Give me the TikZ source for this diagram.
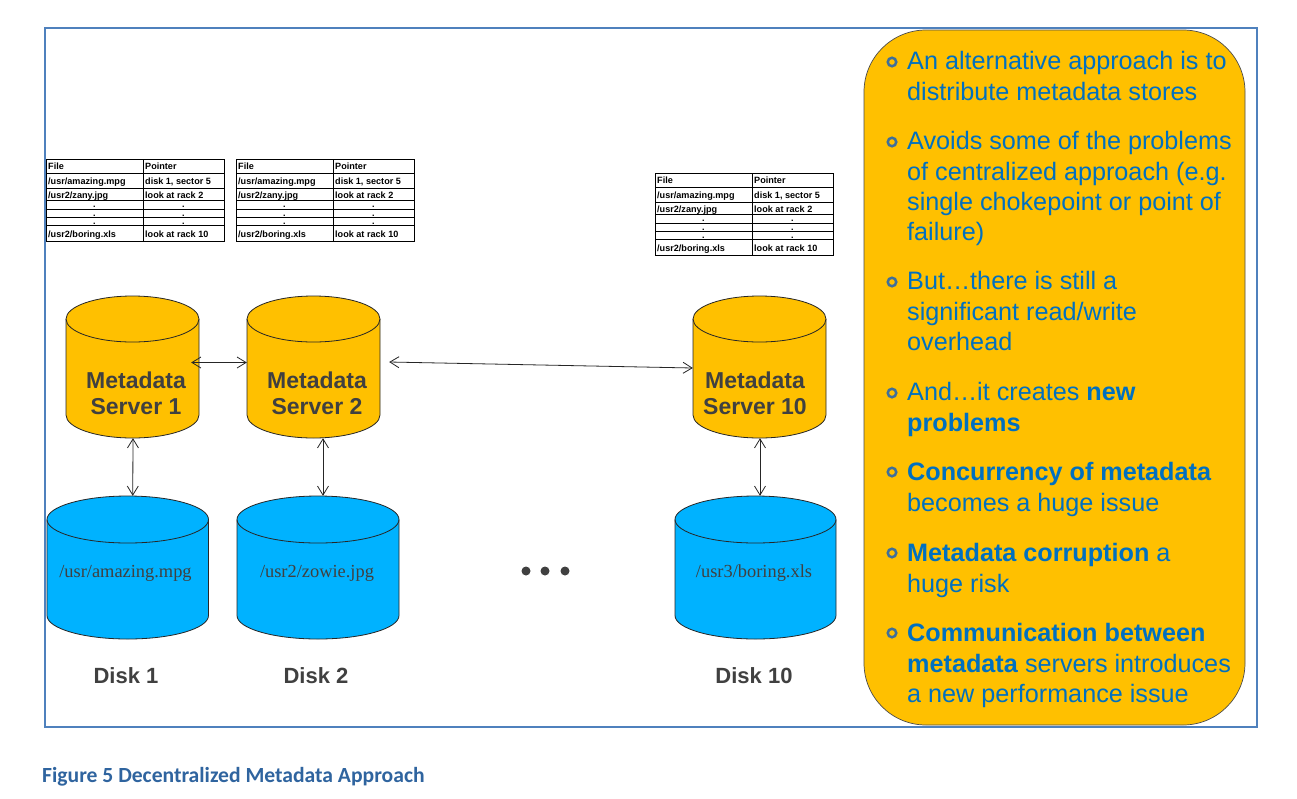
\documentclass[tikz,border=0pt]{standalone}
\usepackage{fontspec}
\setmainfont{Liberation Sans}
\newfontfamily\serifdisk{Liberation Serif}
\newfontfamily\capfont{Carlito}
\usetikzlibrary{arrows.meta,calc}
\definecolor{gold}{HTML}{FFC000}
\definecolor{sky}{HTML}{00B2FF}
\definecolor{frameblue}{HTML}{4F81BD}
\definecolor{textblue}{HTML}{0070C0}
\definecolor{darktxt}{HTML}{404040}
\definecolor{capblue}{HTML}{2F649F}
\definecolor{bulletblue}{HTML}{3F6F9A}
\tikzset{
  link/.style={draw=black!85,line width=0.8pt,{Straight Barb[length=9pt,width=11pt,line width=0.8pt]}-{Straight Barb[length=9pt,width=11pt,line width=0.8pt]}},
  srvlabel/.style={font=\fontsize{23}{26}\selectfont\bfseries,text=darktxt,align=center,inner sep=0pt},
  disklabel/.style={font=\fontsize{22}{24}\selectfont\bfseries,text=darktxt,inner sep=0pt},
  filelabel/.style={font=\serifdisk\fontsize{18.4}{20}\selectfont,text=darktxt,inner sep=0pt},
  para/.style={anchor=north west,inner sep=0pt,align=left,text=textblue,font=\fontsize{25.2}{30.3}\selectfont},
  bulletmark/.style={circle,draw=bulletblue,line width=2.5pt,fill=gold,minimum size=8.5pt,inner sep=0pt},
  dotmark/.style={circle,fill=darktxt,minimum size=9pt,inner sep=0pt},
  tcell/.style={font=\bfseries\fontsize{9.1}{9}\selectfont,inner sep=0pt,anchor=base west,text=black},
}
% \cyl{name}{x1}{x2}{ytop}{ybot}{ry}{fill}
\newcommand\cyl[7]{%
  \pgfmathsetmacro\cxm{(#2+#3)/2}\pgfmathsetmacro\crx{(#3-#2)/2}
  \draw[fill=#7,line width=0.8pt,draw=black!85]
    (#2,#4+#6) arc[start angle=180,end angle=0,x radius=\crx,y radius=-#6]
    -- (#3,#5-#6) arc[start angle=0,end angle=-180,x radius=\crx,y radius=-#6] -- cycle;
  \draw[line width=0.8pt,draw=black!85] (#2,#4+#6) arc[start angle=180,end angle=360,x radius=\crx,y radius=-#6];
  \node[minimum width={(#3-#2)*1pt},minimum height={(#5-#4)*1pt},inner sep=0pt] (#1) at (\cxm,{(#4+#5)/2}) {};
}
% \ftable{x1}{xmid}{x2}{ytop}
\newcommand\ftable[4]{%
  \begin{scope}[shift={(#1,#4)}]
  \draw[line width=0.7pt,fill=white] (0,0) rectangle (178,82);
  \foreach \yy in {14,29,41,50,58,66} \draw[line width=0.7pt] (0,\yy) -- (178,\yy);
  \draw[line width=0.7pt] (97,0) -- (97,82);
  \node[tcell] at (2,10.5) {File};
  \node[tcell] at (99,10.5) {Pointer};
  \node[tcell] at (2,25) {/usr/amazing.mpg};
  \node[tcell] at (99,25) {disk 1, sector 5};
  \node[tcell] at (2,39) {/usr2/zany.jpg};
  \node[tcell] at (99,39) {look at rack 2};
  \foreach \yy in {48,57,65} {\node[tcell] at (47,\yy) {.};\node[tcell] at (136,\yy) {.};}
  \node[tcell] at (2,78) {/usr2/boring.xls};
  \node[tcell] at (99,78) {look at rack 10};
  \end{scope}}
\begin{document}
\begin{tikzpicture}[x=1pt,y=-1pt]
\useasboundingbox (0,0) rectangle (1297,798);
\fill[white] (0,0) rectangle (1297,798);
\draw[frameblue,line width=2pt] (44.5,27.5) rectangle (1257,727);
\draw[fill=gold,draw=black!70,line width=0.7pt,rounded corners=62pt] (864,30) rectangle (1245,725);
\ftable{46}{143}{225}{159}
\ftable{236}{333}{414}{159}
\ftable{655}{752}{833}{173}
\cyl{s1}{66}{199}{296}{438}{23}{gold}
\cyl{s2}{247}{380}{296}{438}{23}{gold}
\cyl{s10}{693}{826}{296}{438}{23}{gold}
\node[srvlabel] at (136,393) {Metadata\\Server 1};
\node[srvlabel] at (317,393) {Metadata\\Server 2};
\node[srvlabel] at (755,393) {Metadata\\Server 10};
\cyl{d1}{47}{208.5}{496}{639}{23.5}{sky}
\cyl{d2}{237}{399}{496}{639}{23.5}{sky}
\cyl{d10}{675}{836}{496}{639}{23.5}{sky}
\node[filelabel] at (125.5,573) {/usr/amazing.mpg};
\node[filelabel] at (317,573) {/usr2/zowie.jpg};
\node[filelabel] at (754,573) {/usr3/boring.xls};
\node[disklabel] at (126,676) {Disk 1};
\node[disklabel] at (316,676) {Disk 2};
\node[disklabel] at (754,676) {Disk 10};
\node[dotmark] (dota) at (526,571) {};
\node[dotmark] (dotb) at (545,571) {};
\node[dotmark] (dotc) at (565,571) {};
\draw[link] ([xshift=-8pt,yshift=4.5pt]s1.east) -- ([yshift=4.5pt]s2.west);
\draw[link] ([xshift=9pt,yshift=5pt]s2.east) -- ([yshift=-1pt]s10.west);
\draw[link] ([xshift=0.5pt]s1.south) -- ([xshift=5pt]d1.north);
\draw[link] ([xshift=9.5pt]s2.south) -- ([xshift=5pt]d2.north);
\draw[link] ([xshift=0.5pt]s10.south) -- ([xshift=4.5pt]d10.north);
\foreach \yy in {62,142,282,393,472,553,633}
  \node[bulletmark] at (892,\yy) {};
\node[para] at (907,51.5) {An alternative approach is to\\distribute metadata stores};
\node[para] at (907,131.5) {Avoids some of the problems\\of centralized approach (e.g.\\single chokepoint or point of\\failure)};
\node[para] at (907,271.5) {But…there is still a\\significant read/write\\overhead};
\node[para] at (907,382.5) {And…it creates \textbf{new}\\\textbf{problems}};
\node[para] at (907,462.5) {\textbf{Concurrency of metadata}\\becomes a huge issue};
\node[para] at (907,543.5) {\textbf{Metadata corruption} a\\huge risk};
\node[para] at (907,623.5) {\textbf{Communication between}\\\textbf{metadata} servers introduces\\a new performance issue};
\node[anchor=base west,inner sep=0pt,font=\capfont\bfseries\fontsize{21.6}{24}\selectfont,text=capblue] at (42,782) {Figure 5 Decentralized Metadata Approach};
\end{tikzpicture}
\end{document}
